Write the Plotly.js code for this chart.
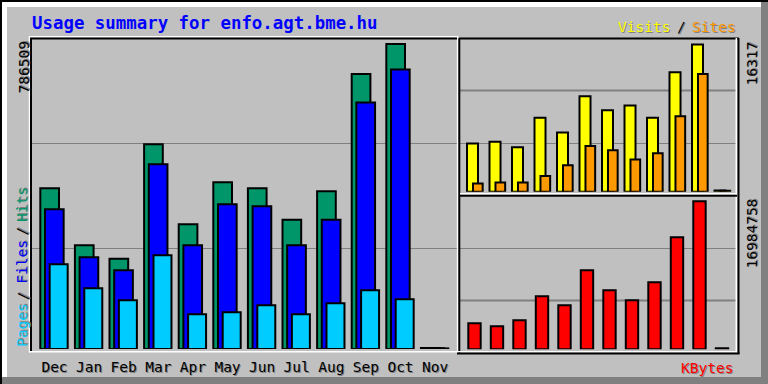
<!DOCTYPE html>
<html>
<head>
<meta charset="utf-8">
<script src="https://cdn.plot.ly/plotly-3.0.1.min.js"></script>
<style>
html,body{margin:0;padding:0;background:#C0C0C0;}
#chart{width:768px;height:384px;}
</style>
</head>
<body>
<div id="chart"></div>
<script>
// ---- data ----
const months = ['Dec','Jan','Feb','Mar','Apr','May','Jun','Jul','Aug','Sep','Oct','Nov'];
const hits   = [414400, 267400, 232900, 527900, 321600, 429900, 414400, 333400, 406700, 709200, 786509, 2600];
const files  = [360300, 236500, 203000, 476300, 267400, 373200, 368000, 267400, 333400, 636200, 721300, 2000];
const pages  = [218400, 156500, 125600, 241600, 89500, 94600, 112700, 89500, 117900, 151400, 128200, 1500];
const visits = [5350, 5540, 4910, 8200, 6570, 10560, 9010, 9560, 8200, 13220, 16317, 120];
const sites  = [920, 1030, 1030, 1740, 2920, 5060, 4580, 3580, 4250, 8350, 13040, 100];
const kbytes = [2983800, 2639500, 3328100, 6082400, 5049500, 9066200, 6771000, 5623300, 7689100, 12853300, 16984758, 120000];
const titleText = 'Usage summary for enfo.agt.bme.hu';

// ---- helpers: pixel -> paper ----
const W = 768, H = 384;
const px = v => v / W;
const py = v => 1 - v / H;

const MONO = '"DejaVu Sans Mono", "Liberation Mono", monospace';
const SHADOW = '1px 1px 0px #808080';
const outline = {color: '#000000', width: 2};

function bar(y, xa, ya, color, offset, width, name) {
  return {
    type: 'bar', x: months, y: y, xaxis: xa, yaxis: ya, name: name,
    offset: offset, width: width,
    marker: {color: color, line: outline},
    hoverinfo: 'skip', showlegend: false
  };
}

const traces = [
  bar(hits,   'x',  'y',  '#00966A', -0.41,  0.54, 'Hits'),
  bar(files,  'x',  'y',  '#0000FF', -0.275, 0.54, 'Files'),
  bar(pages,  'x',  'y',  '#00CCFF', -0.139, 0.52, 'Pages'),
  bar(visits, 'x2', 'y2', '#FFFF00', -0.342, 0.49, 'Visits'),
  bar(sites,  'x2', 'y2', '#FF9900', -0.076, 0.43, 'Sites'),
  bar(kbytes, 'x3', 'y3', '#FF0000', -0.284, 0.55, 'KBytes')
];

function line(x0, y0, x1, y1, color, width, layer) {
  return {type: 'line', xref: 'paper', yref: 'paper',
          x0: px(x0), y0: py(y0), x1: px(x1), y1: py(y1),
          line: {color: color, width: width}, layer: layer || 'above'};
}
function rect(x0, y0, x1, y1, color) {
  return {type: 'rect', xref: 'paper', yref: 'paper',
          x0: px(x0), y0: py(y0), x1: px(x1), y1: py(y1),
          fillcolor: color, line: {width: 0}, layer: 'below'};
}

const shapes = [
  // outer bevel frame
  rect(0, 0, 768, 2, '#000000'),
  rect(0, 0, 2, 384, '#000000'),
  rect(2, 2, 761, 7, '#FFFFFF'),
  rect(2, 2, 7, 377, '#FFFFFF'),
  rect(761, 2, 768, 384, '#808080'),
  rect(2, 377, 768, 384, '#808080'),
  // grid lines
  line(32, 143.5, 457, 143.5, '#808080', 1, 'below'),
  line(32, 248.5, 457, 248.5, '#808080', 1, 'below'),
  line(460, 90.5, 737, 90.5, '#808080', 2, 'below'),
  line(460, 143.5, 737, 143.5, '#808080', 1, 'below'),
  line(460, 248.5, 737, 248.5, '#808080', 1, 'below'),
  line(460, 300.5, 737, 300.5, '#808080', 2, 'below'),
  // left panel border
  line(29, 36.8, 458, 36.8, '#FFFFFF', 1.5),
  line(29.5, 36, 29.5, 352.5, '#FFFFFF', 1.5),
  line(29, 351.8, 458, 351.8, '#FFFFFF', 1.5),
  line(457.6, 36, 457.6, 352.5, '#FFFFFF', 1.5),
  line(30, 38.5, 457, 38.5, '#000000', 2),
  line(31, 38, 31, 351, '#000000', 2),
  // right block border
  line(459.3, 38, 459.3, 353, '#000000', 2),
  line(459, 38.5, 739, 38.5, '#000000', 2),
  line(736.3, 38, 736.3, 352.5, '#FFFFFF', 1.5),
  line(738.5, 38, 738.5, 354, '#000000', 2),
  line(458, 351.8, 737, 351.8, '#FFFFFF', 1.5),
  line(457, 353.5, 739.5, 353.5, '#000000', 2),
  line(460, 193.8, 737, 193.8, '#FFFFFF', 1.5),
  line(459, 195.8, 737, 195.8, '#000000', 2)
];

function ann(text, x, y, color, opts) {
  return Object.assign({
    text: text, x: px(x), y: py(y), xref: 'paper', yref: 'paper',
    showarrow: false, xanchor: 'center', yanchor: 'middle',
    font: {family: MONO, size: 14.5, color: color, shadow: SHADOW}
  }, opts || {});
}

const maxHits = Math.max(...hits);
const maxVisits = Math.max(...visits, ...sites);
const maxK = Math.max(...kbytes);

const annotations = [
  ann(titleText, 30, 22.5, '#0000FF', {xanchor: 'left',
      font: {family: MONO, size: 17.4, color: '#0000FF', weight: 'bold'}}),
  ann('Visits', 672, 27, '#FFFF00', {xanchor: 'right'}),
  ann('/', 681.5, 27, '#000000'),
  ann('Sites', 690, 27, '#FF9900', {xanchor: 'left'}),
  ann('KBytes', 735, 368, '#FF0000', {xanchor: 'right'}),
  ann(String(maxHits), 23, 67.5, '#000000', {textangle: -90}),
  ann(String(maxVisits), 751.5, 64, '#000000', {textangle: -90}),
  ann(String(maxK), 751.5, 234, '#000000', {textangle: -90}),
  ann('Pages', 22, 325, '#00CCFF', {textangle: -90}),
  ann('/', 22, 296.5, '#000000', {textangle: -90}),
  ann('Files', 22, 261.7, '#0000FF', {textangle: -90}),
  ann('/', 22, 231.7, '#000000', {textangle: -90}),
  ann('Hits', 22, 205, '#00966A', {textangle: -90})
];

const hiddenY = {showgrid: false, zeroline: false, showticklabels: false, ticks: '', showline: false, fixedrange: true};
const hiddenX = {type: 'category', categoryarray: months, showgrid: false, zeroline: false,
                 showticklabels: false, ticks: '', showline: false, fixedrange: true};

const layout = {
  width: W, height: H,
  margin: {l: 0, r: 0, t: 0, b: 0, pad: 0},
  paper_bgcolor: '#C0C0C0',
  plot_bgcolor: 'rgba(0,0,0,0)',
  barmode: 'overlay',
  showlegend: false,
  xaxis: Object.assign({}, hiddenX, {
    domain: [px(31), px(457)], range: [-0.679, 11.633], anchor: 'y',
    showticklabels: true, ticklabelstandoff: 7,
    tickfont: {family: MONO, size: 14.5, color: '#000000', shadow: SHADOW}
  }),
  yaxis: Object.assign({}, hiddenY, {domain: [py(349), py(38.5)], range: [0, 801000], anchor: 'x'}),
  xaxis2: Object.assign({}, hiddenX, {domain: [px(460), px(737)], range: [-0.653, 11.658], anchor: 'y2'}),
  yaxis2: Object.assign({}, hiddenY, {domain: [py(191.7), py(38.5)], range: [0, 16970], anchor: 'x2'}),
  xaxis3: Object.assign({}, hiddenX, {domain: [px(460), px(737)], range: [-0.653, 11.658], anchor: 'y3'}),
  yaxis3: Object.assign({}, hiddenY, {domain: [py(349.3), py(196.7)], range: [0, 17512000], anchor: 'x3'}),
  shapes: shapes,
  annotations: annotations
};

Plotly.newPlot('chart', traces, layout, {staticPlot: true, displayModeBar: false});
</script>
</body>
</html>
